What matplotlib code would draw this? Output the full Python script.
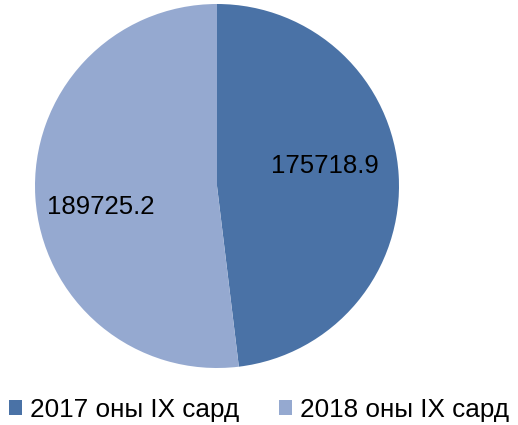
import matplotlib
matplotlib.use("Agg")
import matplotlib.pyplot as plt
from matplotlib.patches import Patch

categories = ["2017 оны IX сард", "2018 оны IX сард"]
values = [175718.9, 189725.2]
colors = ["#4A72A6", "#95A9D0"]

plt.rcParams['font.family'] = ['Liberation Sans', 'DejaVu Sans']

W, H = 518, 425
fig = plt.figure(figsize=(W / 100, H / 100), dpi=100)
cx, cy, r = 217, 186, 182
ax = fig.add_axes([(cx - r) / W, (H - cy - r) / H, 2 * r / W, 2 * r / H])

total = sum(values)
wedges, texts, autotexts = ax.pie(
    values, colors=colors, startangle=90, counterclock=False,
    autopct=lambda p: f"{p * total / 100:.1f}", pctdistance=0.62,
    wedgeprops=dict(linewidth=0), radius=1.0,
    textprops=dict(fontsize=18.5, color="black"))
label_pos = [(0.593, 0.110), (-0.637, -0.115)]
for t, p in zip(autotexts, label_pos):
    t.set_position(p)
ax.set_xlim(-1, 1)
ax.set_ylim(-1, 1)
ax.set_aspect('equal')
ax.axis('off')

handles = [Patch(facecolor=c, edgecolor='none') for c in colors]
fig.legend(handles, categories, loc='center', bbox_to_anchor=(0.5, 1 - 410 / H),
           ncol=2, frameon=False, fontsize=18.8, handlelength=0.5, handleheight=0.5,
           handletextpad=0.3, columnspacing=1.5)

fig.savefig("out.png", dpi=100)
